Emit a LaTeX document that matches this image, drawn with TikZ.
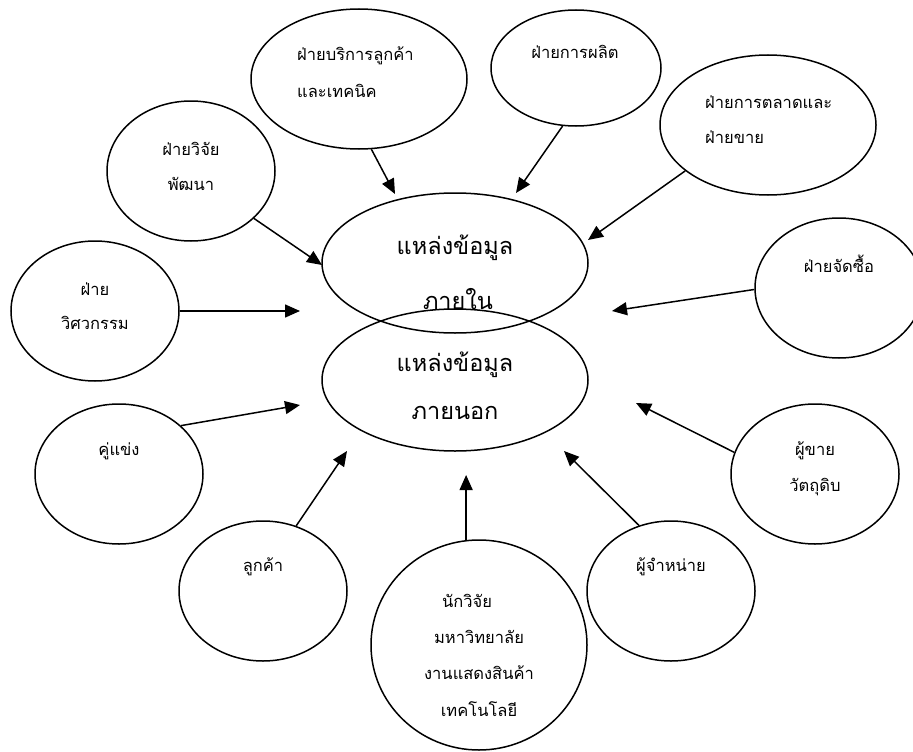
\documentclass[tikz,border=0pt]{standalone}
\usepackage{fontspec}
\newfontfamily\thaifont[Script=Thai]{Loma}
\usetikzlibrary{shapes.geometric,arrows.meta}

\tikzset{
  bubble/.style={ellipse, draw, line width=1.5pt, inner sep=0pt},
  link/.style={line width=1.5pt, -{Triangle[length=15pt,width=13pt]}},
  lbl/.style={font=\thaifont\fontsize{16.5}{16.5}\selectfont, inner sep=0pt, anchor=center},
  biglbl/.style={font=\thaifont\fontsize{23.5}{23.5}\selectfont, inner sep=0pt, anchor=center},
}

\begin{document}
\begin{tikzpicture}[x=1pt, y=-1pt]
\useasboundingbox (0,0) rectangle (913,752);
\clip (0,0) rectangle (913,752);
\fill[white] (0,0) rectangle (913,752);

% central pair of sources
\node[bubble, minimum width=266pt, minimum height=140pt] (inner) at (455,263) {};
\node[bubble, minimum width=266pt, minimum height=142pt] (outer) at (455,380) {};
\node[biglbl] (inner1) at (455,248) {แหล่งข้อมูล};
\node[biglbl] (inner2) at (458,299) {ภายใน};
\node[biglbl] (outer1) at (455,365) {แหล่งข้อมูล};
\node[biglbl] (outer2) at (455,413) {ภายนอก};

% internal departments
\node[bubble, minimum width=168pt, minimum height=140pt] (rnd) at (191,171) {};
\node[lbl] at (191,149) {ฝ่ายวิจัย};
\node[lbl] at (191,184) {พัฒนา};

\node[bubble, minimum width=216pt, minimum height=140pt] (service) at (359,79) {};
\node[lbl, anchor=west] at (297,56) {ฝ่ายบริการลูกค้า};
\node[lbl, anchor=west] at (297,91) {และเทคนิค};

\node[bubble, minimum width=170pt, minimum height=116pt] (prod) at (576,68) {};
\node[lbl] at (575,52) {ฝ่ายการผลิต};

\node[bubble, minimum width=216pt, minimum height=140pt] (mkt) at (768,125) {};
\node[lbl, anchor=west] at (705,102) {ฝ่ายการตลาดและ};
\node[lbl, anchor=west] at (705,137) {ฝ่ายขาย};

\node[bubble, minimum width=168pt, minimum height=140pt] (buy) at (839,288) {};
\node[lbl] at (839,264) {ฝ่ายจัดซื้อ};

\node[bubble, minimum width=168pt, minimum height=140pt] (eng) at (95,311) {};
\node[lbl] at (95,289) {ฝ่าย};
\node[lbl] at (95,323) {วิศวกรรม};

% external parties
\node[bubble, minimum width=168pt, minimum height=140pt] (rival) at (119,474) {};
\node[lbl] at (119,451) {คู่แข่ง};

\node[bubble, minimum width=168pt, minimum height=140pt] (cust) at (263,591) {};
\node[lbl] at (263,567) {ลูกค้า};

\node[bubble, minimum width=216pt, minimum height=210pt] (res) at (479,645) {};
\node[lbl] at (467,601) {นักวิจัย};
\node[lbl] at (479,637) {มหาวิทยาลัย};
\node[lbl] at (479,673) {งานแสดงสินค้า};
\node[lbl] at (479,709) {เทคโนโลยี};

\node[bubble, minimum width=168pt, minimum height=140pt] (dist) at (671,591) {};
\node[lbl] at (671,567) {ผู้จำหน่าย};

\node[bubble, minimum width=168pt, minimum height=140pt] (supp) at (815,474) {};
\node[lbl] at (815,451) {ผู้ขาย};
\node[lbl] at (815,487) {วัตถุดิบ};

% arrow tips
\coordinate (tRnd) at (322,265);
\coordinate (tService) at (395,194);
\coordinate (tProd) at (516,193);
\coordinate (tMkt) at (588,240);
\coordinate (tBuy) at (612,311);
\coordinate (tEng) at (300,311);
\coordinate (tRival) at (300,405);
\coordinate (tCust) at (347,451);
\coordinate (tRes) at (res.97 |- 0,475);
\coordinate (tDist) at (564,451);
\coordinate (tSupp) at (636,403);

\draw[link] (rnd.323) -- (tRnd);
\draw[link] (service.280) -- (tService);
\draw[link] (prod.257) -- (tProd);
\draw[link] (mkt.209) -- (tMkt);
\draw[link] (buy.181) -- (tBuy);
\draw[link] (eng.0) -- (tEng);
\draw[link] (rival.38) -- (tRival);
\draw[link] (cust.63) -- (tCust);
\draw[link] (res.97) -- (tRes);
\draw[link] (dist.116) -- (tDist);
\draw[link] (supp.165) -- (tSupp);
\end{tikzpicture}
\end{document}
